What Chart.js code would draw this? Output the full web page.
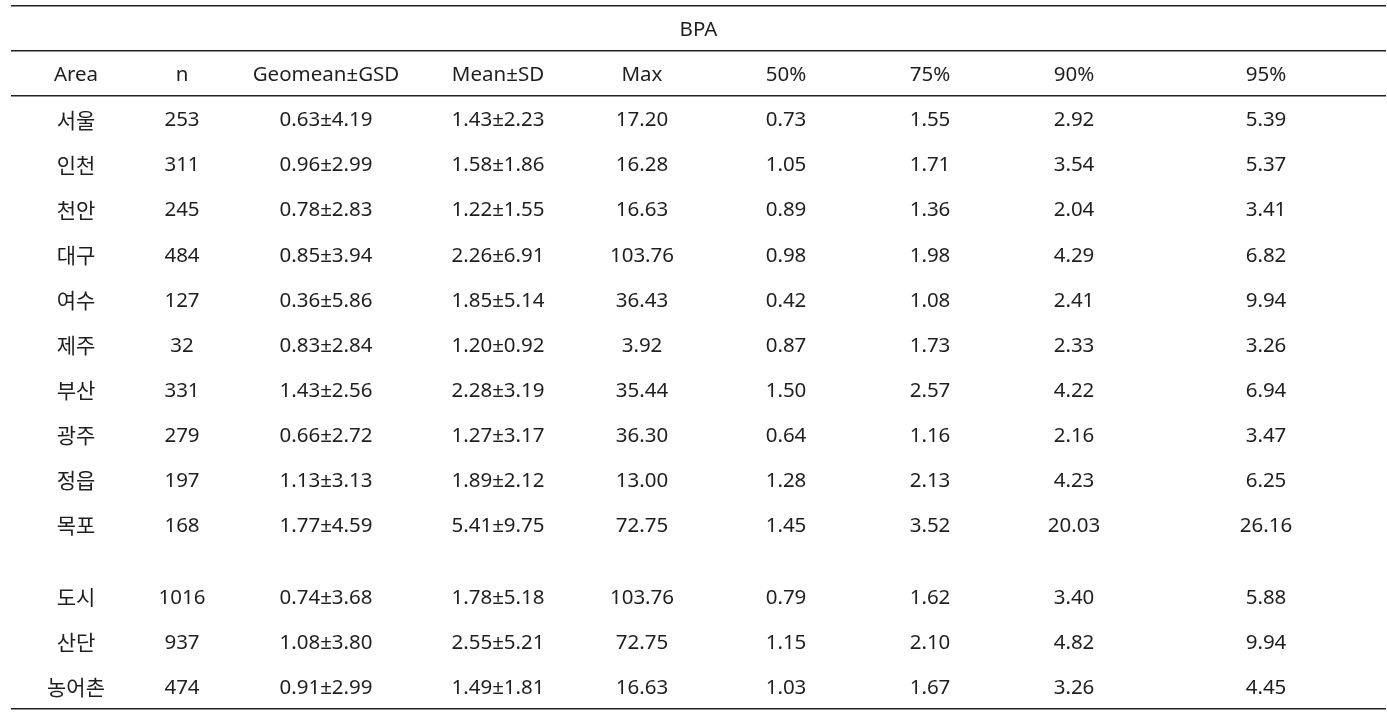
<!DOCTYPE html>
<html>
<head>
<meta charset="utf-8">
<script src="https://cdn.jsdelivr.net/npm/chart.js@4"></script>
<style>
  html, body { margin: 0; padding: 0; background: #fff; }
  #wrap { width: 1387px; height: 714px; position: relative; }
</style>
</head>
<body>
<div id="wrap"><canvas id="tableChart"></canvas></div>
<script>
const title = 'BPA';
const columns = ['Area', 'n', 'Geomean±GSD', 'Mean±SD', 'Max', '50%', '75%', '90%', '95%'];
const areas = ['서울', '인천', '천안', '대구', '여수', '제주', '부산', '광주', '정읍', '목포', '도시', '산단', '농어촌'];
const nCount = [253, 311, 245, 484, 127, 32, 331, 279, 197, 168, 1016, 937, 474];
const geomean = [0.63, 0.96, 0.78, 0.85, 0.36, 0.83, 1.43, 0.66, 1.13, 1.77, 0.74, 1.08, 0.91];
const gsd = [4.19, 2.99, 2.83, 3.94, 5.86, 2.84, 2.56, 2.72, 3.13, 4.59, 3.68, 3.80, 2.99];
const mean = [1.43, 1.58, 1.22, 2.26, 1.85, 1.20, 2.28, 1.27, 1.89, 5.41, 1.78, 2.55, 1.49];
const sd = [2.23, 1.86, 1.55, 6.91, 5.14, 0.92, 3.19, 3.17, 2.12, 9.75, 5.18, 5.21, 1.81];
const maxVal = [17.20, 16.28, 16.63, 103.76, 36.43, 3.92, 35.44, 36.30, 13.00, 72.75, 103.76, 72.75, 16.63];
const p50 = [0.73, 1.05, 0.89, 0.98, 0.42, 0.87, 1.50, 0.64, 1.28, 1.45, 0.79, 1.15, 1.03];
const p75 = [1.55, 1.71, 1.36, 1.98, 1.08, 1.73, 2.57, 1.16, 2.13, 3.52, 1.62, 2.10, 1.67];
const p90 = [2.92, 3.54, 2.04, 4.29, 2.41, 2.33, 4.22, 2.16, 4.23, 20.03, 3.40, 4.82, 3.26];
const p95 = [5.39, 5.37, 3.41, 6.82, 9.94, 3.26, 6.94, 3.47, 6.25, 26.16, 5.88, 9.94, 4.45];

// layout (table units: px from the table's left edge, rows of one line height)
const TABLE_WIDTH = 1375;
const COL_CENTER = [65, 171, 315, 487, 631, 775, 919, 1063, 1255];
const GROUP_GAP = 0.6;      // blank space before the 도시/산단/농어촌 block
const FIRST_ROW = 2;        // row 0 = title, row 1 = column headers
const FONT = '20.5px "Noto Sans", "Noto Sans CJK KR", sans-serif';
const FONT_KR = '21px "Noto Sans CJK KR", sans-serif';
const TEXT_COLOR = '#1f1f1f';
const TEXT_DY = 2;
const TEXT_DY_KR = 1;

const f2 = v => v.toFixed(2);
const cellText = [
  areas,
  nCount.map(String),
  geomean.map((g, i) => f2(g) + '±' + f2(gsd[i])),
  mean.map((m, i) => f2(m) + '±' + f2(sd[i])),
  maxVal.map(f2),
  p50.map(f2),
  p75.map(f2),
  p90.map(f2),
  p95.map(f2)
];

function rowPos(i) {
  return FIRST_ROW + i + (i >= 10 ? GROUP_GAP : 0);
}
const lastRow = rowPos(areas.length - 1);
const rules = [-0.5, 0.5, 1.5, lastRow + 0.5];

const datasets = [];
datasets.push({ data: [{ x: TABLE_WIDTH / 2, y: 0, t: title }] });
datasets.push({ data: columns.map((c, j) => ({ x: COL_CENTER[j], y: 1, t: c })) });
cellText.forEach((col, j) => {
  datasets.push({ kr: j === 0, data: col.map((t, i) => ({ x: COL_CENTER[j], y: rowPos(i), t: t })) });
});

const cellTextPlugin = {
  id: 'cellText',
  afterDatasetsDraw(chart) {
    const ctx = chart.ctx;
    ctx.save();
    ctx.fillStyle = TEXT_COLOR;
    ctx.textAlign = 'center';
    ctx.textBaseline = 'middle';
    chart.data.datasets.forEach((ds, di) => {
      ctx.font = ds.kr ? FONT_KR : FONT;
      const dy = ds.kr ? TEXT_DY_KR : TEXT_DY;
      chart.getDatasetMeta(di).data.forEach((el, i) => {
        ctx.fillText(ds.data[i].t, el.x, el.y + dy);
      });
    });
    ctx.restore();
  }
};

new Chart(document.getElementById('tableChart'), {
  type: 'scatter',
  data: { datasets: datasets },
  options: {
    responsive: true,
    maintainAspectRatio: false,
    animation: false,
    events: [],
    elements: { point: { radius: 0 } },
    layout: { padding: { top: 6, bottom: 5.5, left: 11, right: 1 } },
    plugins: { legend: { display: false }, tooltip: { enabled: false } },
    scales: {
      x: { type: 'linear', display: false, min: 0, max: TABLE_WIDTH },
      y: {
        type: 'linear',
        reverse: true,
        min: rules[0],
        max: rules[rules.length - 1],
        afterBuildTicks: scale => { scale.ticks = rules.map(v => ({ value: v })); },
        ticks: { display: false },
        border: { display: false },
        grid: { color: '#222', lineWidth: 1.6, drawTicks: false }
      }
    }
  },
  plugins: [cellTextPlugin]
});
</script>
</body>
</html>
